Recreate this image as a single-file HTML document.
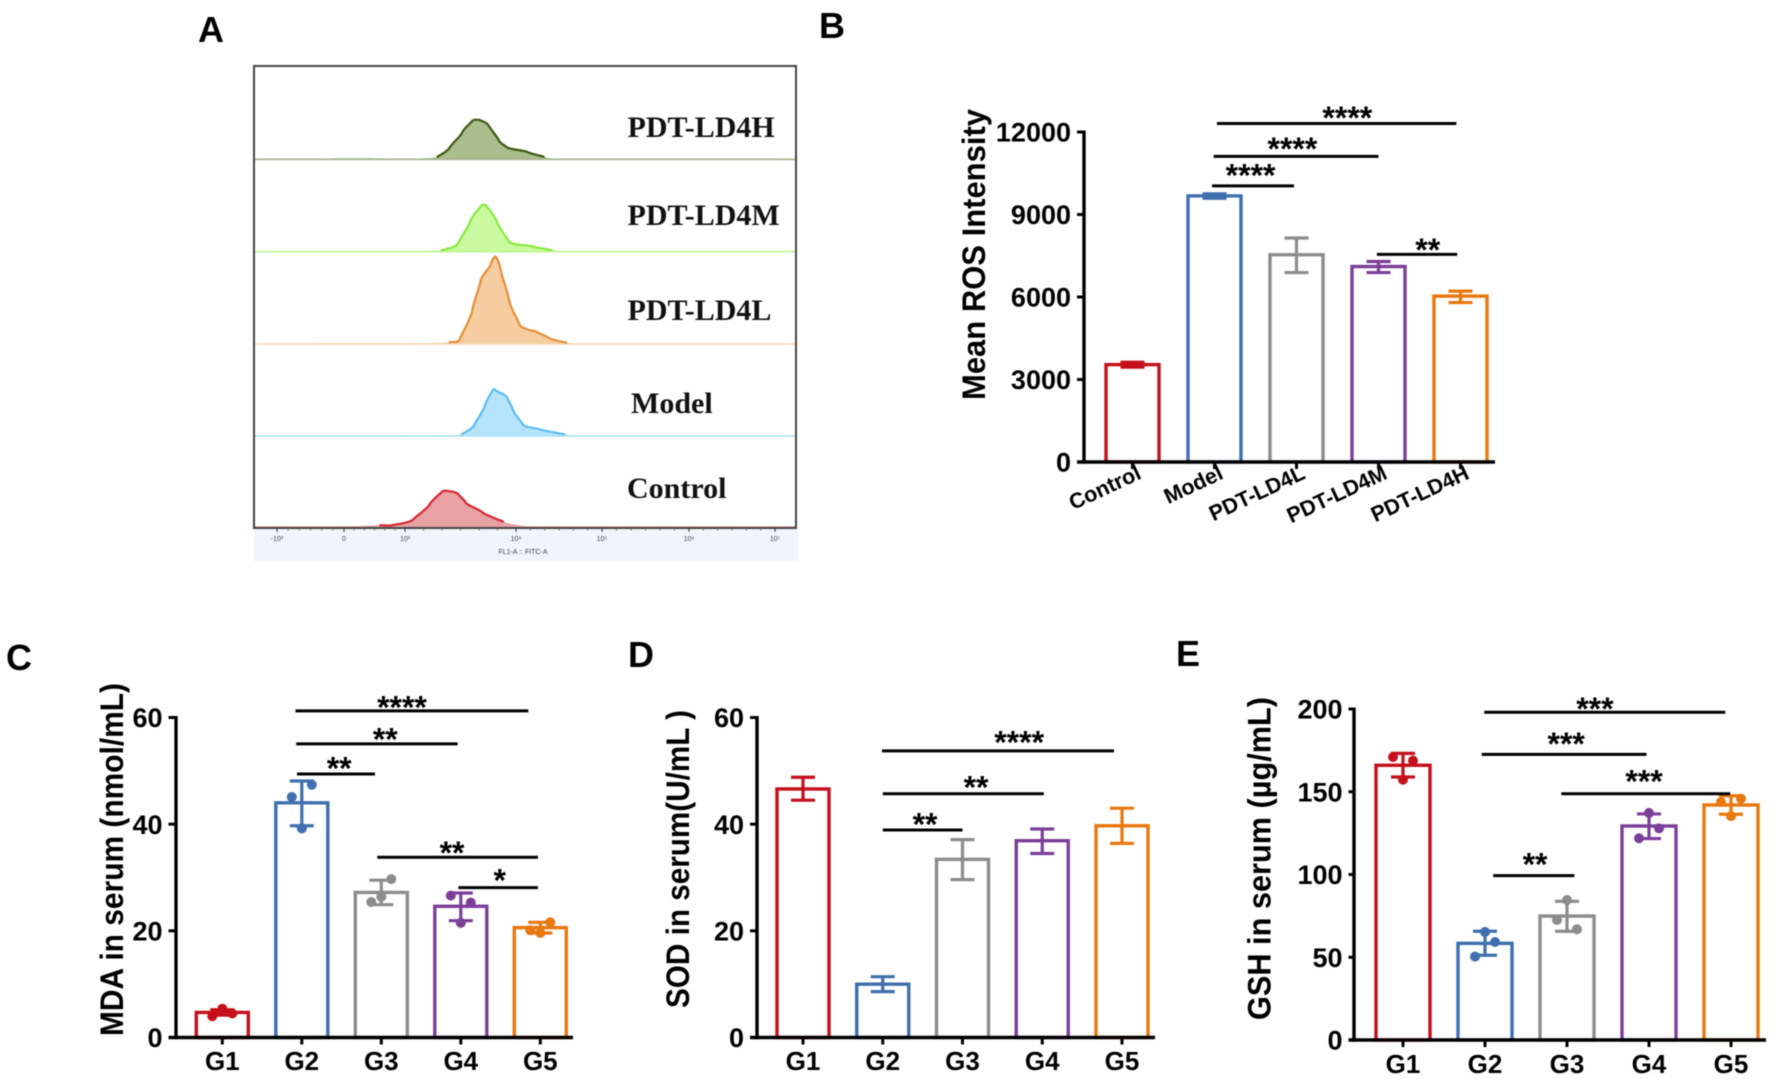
<!DOCTYPE html>
<html lang="en">
<head>
<meta charset="utf-8">
<title>ROS and serum oxidative stress markers</title>
<style>
html,body{margin:0;padding:0;background:#fff;}
svg{display:block;font-family:"Liberation Sans",Arial,sans-serif;filter:blur(0.4px);}
.panel{font-weight:bold;font-size:36px;fill:#000;}
.hlabel{font-family:"Liberation Serif",serif;font-weight:bold;font-size:30px;fill:#111;}
</style>
</head>
<body>
<svg id="fig" xmlns="http://www.w3.org/2000/svg" width="1772" height="1079" viewBox="0 0 1772 1079">
  <rect width="1772" height="1079" fill="#fff"/>
  <text class="panel" x="198" y="42">A</text>
  <text class="panel" x="819" y="38">B</text>
  <text class="panel" x="6" y="670">C</text>
  <text class="panel" x="628" y="667">D</text>
  <text class="panel" x="1176" y="666">E</text>

  <g id="panelA">
    <rect x="254" y="528" width="544" height="33" fill="#f0f4fc"/>
    <g id="histograms"></g>
    <rect x="254" y="66" width="542" height="462" fill="none" stroke="#444" stroke-width="2"/>
    <g id="flowTicks"></g>
    <text x="523" y="554" font-size="7" text-anchor="middle" fill="#444">FL1-A :: FITC-A</text>
    <text class="hlabel" x="627.5" y="137">PDT-LD4H</text>
    <text class="hlabel" x="627.5" y="225">PDT-LD4M</text>
    <text class="hlabel" x="627.5" y="320">PDT-LD4L</text>
    <text class="hlabel" x="631" y="413">Model</text>
    <text class="hlabel" x="627" y="498">Control</text>
  </g>

  <g id="chartB"></g>
  <g id="chartC"></g>
  <g id="chartD"></g>
  <g id="chartE"></g>
</svg>

<script>
// ---------- Panel A data (FITC channel, event count) ----------
const histNames = ["PDT-LD4H", "PDT-LD4M", "PDT-LD4L", "Model", "Control"];
const histHChannels = [0,159,199,289,389,449,479,509,534,554,574,599,619,669,709,739,769,1329];
const histHCounts   = [0,1,3,3,2,7,32,72,104,106,92,52,32,20,7,1,0,0];
const histMChannels = [0,359,459,499,529,554,569,594,624,679,729,779,1329];
const histMCounts   = [0,2,4,22,82,122,124,82,27,15,4,0,0];
const histLChannels = [0,169,389,479,504,534,554,579,591,604,624,649,669,694,724,764,819,1329];
const histLCounts   = [0,2,2,5,15,90,170,215,238,200,120,55,40,32,15,4,0,0];
const histModelChannels = [0,449,509,539,564,584,594,619,634,659,699,759,824,1329];
const histModelCounts   = [0,2,5,30,80,124,122,105,70,30,18,5,0,0];
const histControlChannels = [0,219,239,309,339,389,429,459,479,499,519,559,609,674,1329];
const histControlCounts   = [0,0,2,5,5,20,60,95,97,90,65,40,15,0,0];
const flowTickLabels = ["-10³", "0", "10³", "10⁴", "10⁵", "10⁶", "10⁷"];

// ---------- Panel B data ----------
const bCategories = ["Control", "Model", "PDT-LD4L", "PDT-LD4M", "PDT-LD4H"];
const bMeans = [3541, 9676, 7537, 7108, 6032];
const bErrHigh = [3630, 9750, 8146, 7290, 6213];
const bErrLow = [3450, 9590, 6889, 6889, 5798];
const bTicks = [0, 3000, 6000, 9000, 12000];
const bSigFrom = [1.03, 0.99, 0.97, 2.98];
const bSigTo = [3.95, 3.0, 1.97, 3.96];
const bSigLevel = [12310, 11115, 10040, 7550];
const bSigLabel = ["****", "****", "****", "**"];

// ---------- Panel C data ----------
const groupNames = ["G1", "G2", "G3", "G4", "G5"];
const cMeans = [4.7, 44, 27.2, 24.6, 20.6];
const cErrHigh = [5.2, 48.1, 29.5, 27.1, 21.6];
const cErrLow = [4.2, 39.7, 24.9, 21.9, 19.6];
const cPoints = [[4, 5.4, 4.5], [45.1, 39.2, 47.4], [25.4, 26.4, 29.7], [26.6, 21.5, 25.3], [20.1, 19.6, 21.6]];
const cTicks = [0, 20, 40, 60];
const cSigFrom = [0.92, 0.93, 0.94, 1.95, 2.97];
const cSigTo = [3.85, 2.96, 1.92, 3.97, 3.97];
const cSigLevel = [61.25, 55.06, 49.4, 33.8, 28.1];
const cSigLabel = ["****", "**", "**", "**", "*"];

// ---------- Panel D data ----------
const dMeans = [46.6, 10, 33.4, 36.9, 39.7];
const dErrHigh = [48.8, 11.4, 37.1, 39.1, 43];
const dErrLow = [44.5, 8.6, 29.6, 34.5, 36.4];
const dTicks = [0, 20, 40, 60];
const dSigFrom = [0.99, 1, 1];
const dSigTo = [3.9, 3.02, 2];
const dSigLevel = [53.75, 45.7, 38.9];
const dSigLabel = ["****", "**", "**"];

// ---------- Panel E data ----------
const eMeans = [166, 58.4, 74.9, 129.3, 142];
const eErrHigh = [173.2, 65.7, 83.8, 136.6, 147.6];
const eErrLow = [158.9, 51.2, 65.7, 121.7, 136.4];
const ePoints = [[171, 157.3, 168.8], [50.4, 65.3, 59.2], [72.5, 84.6, 66.9], [121.9, 137.2, 127.9], [143.8, 135.3, 145.8]];
const eTicks = [0, 50, 100, 150, 200];
const eSigFrom = [0.99, 0.96, 1.93, 1.1];
const eSigTo = [3.93, 2.97, 3.99, 2.09];
const eSigLevel = [198, 172.6, 148.8, 99.3];
const eSigLabel = ["***", "***", "***", "**"];

// ---------- Rendering ----------
const NS = "http://www.w3.org/2000/svg";
const barColors = ["#c5101c", "#3f6fae", "#8c8c8c", "#7b3f98", "#e8780f"];

function make(tag, attrs, parent, text) {
  const n = document.createElementNS(NS, tag);
  for (const k in attrs) n.setAttribute(k, attrs[k]);
  if (text !== undefined) n.textContent = text;
  parent.appendChild(n);
  return n;
}

// Catmull-Rom spline through the points, as an SVG path
function smooth(pts) {
  let d = "M" + pts[0][0].toFixed(1) + " " + pts[0][1].toFixed(1);
  for (let i = 0; i < pts.length - 1; i++) {
    const p0 = pts[Math.max(i - 1, 0)], p1 = pts[i], p2 = pts[i + 1], p3 = pts[Math.min(i + 2, pts.length - 1)];
    const dx = p2[0] - p1[0];
    const k = 0.16;
    const c1x = p1[0] + Math.min(dx, (p2[0] - p0[0])) * k;
    const c1y = p1[1] + (p2[1] - p0[1]) * k;
    const c2x = p2[0] - Math.min(dx, (p3[0] - p1[0])) * k;
    const c2y = p2[1] - (p3[1] - p1[1]) * k;
    d += "C" + c1x.toFixed(1) + " " + c1y.toFixed(1) + " " + c2x.toFixed(1) + " " + c2y.toFixed(1) + " " + p2[0].toFixed(1) + " " + p2[1].toFixed(1);
  }
  return d;
}

function drawHistogram(parent, slug, channels, counts, baseY, stroke, fill, tail) {
  const x = c => 254 + c / 2.447;
  const y = n => baseY - n / 2.72;
  const g = make("g", {}, parent);
  
  
  const all = channels.map((c, i) => [x(c), Math.min(y(counts[i]), baseY)]);
  const fillShape = make("path", { d: smooth(all) + "Z", fill: fill }, g);
  
  
  const base = make("line", { x1: x(channels[0]), x2: x(channels[channels.length - 1]), y1: baseY, y2: baseY, stroke: tail, "stroke-width": 1.6 }, g);
  
  
  const peak = [];
  channels.forEach((c, i) => {
    if (counts[i] >= 4) peak.push(all[i]);
  });
  const outline = make("path", { d: smooth(peak), fill: "none", stroke: stroke, "stroke-width": 2.2, "stroke-linejoin": "round", "stroke-linecap": "round" }, g);
  
  
}

const histRoot = document.getElementById("histograms");
drawHistogram(histRoot, "pdt-ld4h", histHChannels, histHCounts, 159.3, "#3c5a14", "#aabd8c", "#a5b48c");
drawHistogram(histRoot, "pdt-ld4m", histMChannels, histMCounts, 251.7, "#86ea3e", "#cbfba0", "#bdf58f");
drawHistogram(histRoot, "pdt-ld4l", histLChannels, histLCounts, 344, "#e58e38", "#f5cda0", "#f5d7b0");
drawHistogram(histRoot, "model", histModelChannels, histModelCounts, 436, "#5cbcf0", "#b6e4fb", "#a8e2f2");
drawHistogram(histRoot, "control", histControlChannels, histControlCounts, 527, "#d62630", "#e8a2a4", "#e8a2a4");

// Flow x axis: biexponential axis, decade index → pixel
function flowX(i) {
  const stops = [277, 344, 405, 516, 602, 689, 775];
  const lo = Math.floor(i), hi = Math.min(lo + 1, stops.length - 1);
  return stops[lo] + (stops[hi] - stops[lo]) * (i - lo);
}
const flowRoot = document.getElementById("flowTicks");
flowTickLabels.forEach((lab, i) => {
  const t = make("line", { x1: flowX(i), x2: flowX(i), y1: 528, y2: 532, stroke: "#333", "stroke-width": 1 }, flowRoot);
  
  
  const l = make("text", { x: flowX(i), y: 541, "font-size": 7, "text-anchor": "middle", fill: "#444" }, flowRoot, lab);
  
  
  if (i < flowTickLabels.length - 1) {
    for (let k = 1; k < 6; k++) {
      const mx = flowX(i + k / 6);
      const m = make("line", { x1: mx, x2: mx, y1: 528, y2: 530.5, stroke: "#555", "stroke-width": 0.8 }, flowRoot);
      
      
    }
  }
});

function drawChart(rootId, d, L) {
  const root = document.getElementById(rootId);
  const xg = i => L.x0 + L.step * i;
  const yv = v => L.y0 - (v - 0) * (L.y0 - L.yTop) / L.vTop;
  const starFont = 32;

  // bars
  d.means.forEach((v, i) => {
    const c = barColors[i];
    const b = make("rect", { x: xg(i) - L.barW / 2, y: yv(v), width: L.barW, height: L.y0 - yv(v), fill: "#fff", stroke: c, "stroke-width": 3.4 }, root);
    
    
  });
  // error bars
  d.means.forEach((v, i) => {
    const c = barColors[i];
    const hi = yv(d.errHigh[i]), lo = yv(d.errLow[i]);
    const cx = xg(i);
    const stem = make("line", { x1: cx, x2: cx, y1: hi, y2: lo, stroke: c, "stroke-width": 3.2 }, root);
    
    
    [hi, lo].forEach(yy => {
      const cap = make("line", { x1: cx - L.capW, x2: cx + L.capW, y1: yy, y2: yy, stroke: c, "stroke-width": 3.2 }, root);
      
      
    });
    if (d.points) {
      d.points[i].forEach((p, k) => {
        const dot = make("circle", { cx: cx + (k - 1) * L.jitter, cy: yv(p), r: 5, fill: c }, root);
        
        
      });
    }
  });
  // axes
  const yAxis = make("line", { x1: L.axisX, x2: L.axisX, y1: yv(L.vTop) - 1.5, y2: L.y0 + 1.7, stroke: "#000", "stroke-width": 3.4 }, root);
  
  
  const xAxis = make("line", { x1: L.axisLeft, x2: L.axisRight, y1: L.y0, y2: L.y0, stroke: "#000", "stroke-width": 3.4 }, root);
  
  
  d.ticks.forEach(t => {
    const yy = yv(t);
    const m = make("line", { x1: L.axisLeft, x2: L.axisX, y1: yy, y2: yy, stroke: "#000", "stroke-width": 3 }, root);
    
    
    const l = make("text", { x: L.axisLeft - 6, y: yy + L.tickFont * 0.36, "font-size": L.tickFont, "font-weight": "bold", "text-anchor": "end", fill: "#000" }, root, String(t));
    
    
  });
  d.cats.forEach((name, i) => {
    const cx = xg(i);
    const m = make("line", { x1: cx, x2: cx, y1: L.y0, y2: L.y0 + 7, stroke: "#000", "stroke-width": 3 }, root);
    
    
    const attrs = L.rotate
      ? { transform: "translate(" + (cx + 10) + "," + (L.y0 + 16) + ") rotate(" + L.rotate + ")", "font-size": L.catFont, "font-weight": "bold", "text-anchor": "end", fill: "#000" }
      : { x: cx, y: L.catY, "font-size": L.catFont, "font-weight": "bold", "text-anchor": "middle", fill: "#000" };
    const l = make("text", attrs, root, name);
    
    
  });
  // significance brackets
  d.sigLevel.forEach((lev, i) => {
    const yy = yv(lev);
    const ln = make("line", { x1: xg(d.sigFrom[i]), x2: xg(d.sigTo[i]), y1: yy, y2: yy, stroke: "#000", "stroke-width": 3 }, root);
    
    
    const st = make("text", { x: xg(L.starAt[i]), y: yy - L.starGap[i] + 0.457 * starFont, "font-size": starFont, "font-weight": "bold", "text-anchor": "middle", fill: "#000" }, root, d.sigLabel[i]);
    
    
  });
  // y title
  const tt = make("text", { transform: "translate(" + L.titleX + "," + L.titleBottom + ") rotate(-90)", "font-size": L.titleFont, "font-weight": "bold", fill: "#000", textLength: L.titleLen, lengthAdjust: "spacingAndGlyphs" }, root, L.title);
  
  
}

drawChart("chartB",
  { cats: bCategories, means: bMeans, errHigh: bErrHigh, errLow: bErrLow, ticks: bTicks, sigFrom: bSigFrom, sigTo: bSigTo, sigLevel: bSigLevel, sigLabel: bSigLabel },
  { x0: 1132.5, step: 82, barW: 53, capW: 12, y0: 462, yTop: 132, vTop: 12000, axisX: 1084, axisLeft: 1077, axisRight: 1495, tickFont: 27, catFont: 21.5, rotate: -25, starAt: [2.62, 1.95, 1.44, 3.6], starGap: [9, 11, 14, 8], title: "Mean ROS Intensity", titleX: 985, titleBottom: 400, titleFont: 32, titleLen: 291, jitter: 0 });

drawChart("chartC",
  { cats: groupNames, means: cMeans, errHigh: cErrHigh, errLow: cErrLow, points: cPoints, ticks: cTicks, sigFrom: cSigFrom, sigTo: cSigTo, sigLevel: cSigLevel, sigLabel: cSigLabel },
  { x0: 222.3, step: 79.5, barW: 52, capW: 12, y0: 1037.5, yTop: 717.5, vTop: 60, axisX: 176, axisLeft: 168.5, axisRight: 573, tickFont: 27, catFont: 26, catY: 1070, starAt: [2.26, 2.05, 1.47, 2.89, 3.49], starGap: [7, 8, 9, 8, 11], title: "MDA in serum (nmol/mL)", titleX: 123, titleBottom: 1036, titleFont: 32, titleLen: 353, jitter: 10 });

drawChart("chartD",
  { cats: groupNames, means: dMeans, errHigh: dErrHigh, errLow: dErrLow, ticks: dTicks, sigFrom: dSigFrom, sigTo: dSigTo, sigLevel: dSigLevel, sigLabel: dSigLabel },
  { x0: 803, step: 79.75, barW: 52, capW: 12, y0: 1037.5, yTop: 717.5, vTop: 60, axisX: 757, axisLeft: 750, axisRight: 1155, tickFont: 27, catFont: 26, catY: 1070, starAt: [2.71, 2.17, 1.53], starGap: [12, 10, 9], title: "SOD in serum(U/mL )", titleX: 689, titleBottom: 1008, titleFont: 32, titleLen: 298, jitter: 0 });

drawChart("chartE",
  { cats: groupNames, means: eMeans, errHigh: eErrHigh, errLow: eErrLow, points: ePoints, ticks: eTicks, sigFrom: eSigFrom, sigTo: eSigTo, sigLevel: eSigLevel, sigLabel: eSigLabel },
  { x0: 1403, step: 82, barW: 54, capW: 12, y0: 1040, yTop: 709, vTop: 200, axisX: 1354, axisLeft: 1348.5, axisRight: 1766, tickFont: 27, catFont: 26, catY: 1073, starAt: [2.34, 1.99, 2.94, 1.61], starGap: [7, 14, 16, 15], title: "GSH in serum (µg/mL)", titleX: 1270.6, titleBottom: 1020, titleFont: 32, titleLen: 323, jitter: 10 });
</script>
</body>
</html>
